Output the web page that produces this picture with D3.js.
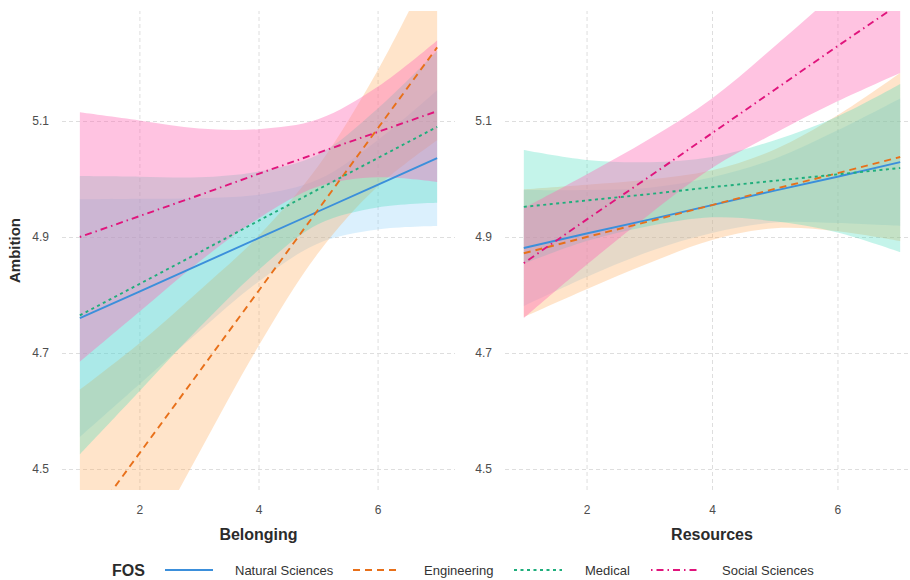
<!DOCTYPE html>
<html>
<head>
<meta charset="utf-8">
<script src="https://cdn.jsdelivr.net/npm/d3@7"></script>
<style>
  body { margin: 0; background: #fff; }
  text { font-family: "Liberation Sans", Arial, sans-serif; }
</style>
</head>
<body>
<div id="chart"></div>
<script>
// values, at x = 1..7
var xs = [1, 2, 3, 4, 5, 6, 7];
var groups = ["Natural Sciences", "Engineering", "Medical", "Social Sciences"];
var yTicks = [4.5, 4.7, 4.9, 5.1];
var xTicks = [2, 4, 6];
var panelTitles = ["Belonging", "Resources"];

// Belonging panel
var belNatFit = [4.760, 4.806, 4.852, 4.898, 4.944, 4.990, 5.036];
var belNatLo  = [4.555, 4.646, 4.737, 4.823, 4.889, 4.913, 4.919];
var belNatHi  = [4.965, 4.966, 4.967, 4.973, 4.999, 5.067, 5.153];
var belEngFit = [4.387, 4.527, 4.667, 4.807, 4.947, 5.087, 5.227];
var belEngLo  = [4.137, 4.337, 4.527, 4.712, 4.872, 4.987, 5.067];
var belEngHi  = [4.637, 4.717, 4.807, 4.902, 5.022, 5.187, 5.387];
var belMedFit = [4.765, 4.819, 4.873, 4.928, 4.982, 5.036, 5.090];
var belMedLo  = [4.525, 4.634, 4.743, 4.843, 4.922, 4.951, 4.959];
var belMedHi  = [5.005, 5.004, 5.003, 5.013, 5.042, 5.121, 5.221];
var belSocFit = [4.900, 4.936, 4.972, 5.009, 5.045, 5.081, 5.117];
var belSocLo  = [4.685, 4.771, 4.857, 4.932, 4.987, 5.003, 4.995];
var belSocHi  = [5.115, 5.101, 5.087, 5.086, 5.103, 5.159, 5.239];

// Resources panel
var resNatFit = [4.881, 4.906, 4.930, 4.955, 4.980, 5.004, 5.029];
var resNatLo  = [4.781, 4.831, 4.875, 4.907, 4.925, 4.924, 4.919];
var resNatHi  = [4.981, 4.981, 4.985, 5.003, 5.035, 5.084, 5.139];
var resEngFit = [4.872, 4.900, 4.927, 4.955, 4.983, 5.010, 5.038];
var resEngLo  = [4.762, 4.810, 4.855, 4.895, 4.915, 4.910, 4.893];
var resEngHi  = [4.982, 4.990, 4.999, 5.015, 5.051, 5.110, 5.183];
var resMedFit = [4.952, 4.963, 4.974, 4.986, 4.997, 5.008, 5.019];
var resMedLo  = [4.854, 4.893, 4.919, 4.934, 4.927, 4.908, 4.874];
var resMedHi  = [5.050, 5.033, 5.029, 5.038, 5.067, 5.108, 5.164];
var resSocFit = [4.855, 4.930, 5.004, 5.079, 5.154, 5.229, 5.303];
var resSocLo  = [4.760, 4.852, 4.939, 5.019, 5.079, 5.134, 5.183];
var resSocHi  = [4.950, 5.008, 5.069, 5.139, 5.229, 5.324, 5.423];

var lineColors = ["#3b8fdb", "#e8701a", "#1fae7c", "#e0147c"];
var fillColors = ["#87cefa", "#ffa54f", "#3ddbb8", "#ff69b4"];
var fillAlpha = [0.3, 0.3, 0.3, 0.4];
var dashes = [null, "7,5", "3,3.5", "1.5,4,7,4"];

var panels = [
  { fit: [belNatFit, belEngFit, belMedFit, belSocFit], lo: [belNatLo, belEngLo, belMedLo, belSocLo], hi: [belNatHi, belEngHi, belMedHi, belSocHi], x0: 62, x1: 455 },
  { fit: [resNatFit, resEngFit, resMedFit, resSocFit], lo: [resNatLo, resEngLo, resMedLo, resSocLo], hi: [resNatHi, resEngHi, resMedHi, resSocHi], x0: 505, x1: 919 }
];

var width = 910, height = 580;
var plotTop = 11, plotBottom = 490;

var svg = d3.select("#chart").append("svg").attr("width", width).attr("height", height);

var y = d3.scaleLinear().domain([4.4638, 5.2897]).range([plotBottom, plotTop]);

function styleGrid(a) {
  a.select(".domain").remove();
  a.selectAll("line").attr("stroke", "#dedede").attr("stroke-dasharray", "4,3");
}
function styleLabels(a) {
  a.select(".domain").remove();
  a.selectAll("text").attr("font-size", 12).attr("fill", "#4d4d4d").attr("font-family", "Liberation Sans, Arial, sans-serif");
}

panels.forEach(function(p, pi) {
  var x = d3.scaleLinear().domain([0.7, 7.3]).range([p.x0, p.x1]);
  var g = svg.append("g");

  // grid
  g.append("g").attr("transform", "translate(0," + plotBottom + ")")
    .call(d3.axisBottom(x).tickValues(xTicks).tickSize(-(plotBottom - plotTop)).tickFormat(""))
    .call(styleGrid);
  g.append("g").attr("transform", "translate(" + p.x0 + ",0)")
    .call(d3.axisLeft(y).tickValues(yTicks).tickSize(-(p.x1 - p.x0)).tickFormat(""))
    .call(styleGrid);

  // tick labels
  g.append("g").attr("transform", "translate(" + (p.x0 - 10) + ",0)")
    .call(d3.axisLeft(y).tickValues(yTicks).tickSize(0).tickFormat(d3.format(".1f")))
    .call(styleLabels);
  g.append("g").attr("transform", "translate(0," + (plotBottom + 12) + ")")
    .call(d3.axisBottom(x).tickValues(xTicks).tickSize(0).tickFormat(d3.format("d")))
    .call(styleLabels);

  g.append("text").attr("x", (p.x0 + p.x1) / 2).attr("y", 540).attr("text-anchor", "middle")
    .attr("font-size", 16).attr("font-weight", "bold").attr("fill", "#2b2b2b").text(panelTitles[pi]);

  var clipId = "clip" + pi;
  svg.append("clipPath").attr("id", clipId).append("rect")
    .attr("x", p.x0).attr("y", plotTop).attr("width", p.x1 - p.x0).attr("height", plotBottom - plotTop);

  var plot = g.append("g").attr("clip-path", "url(#" + clipId + ")");

  groups.forEach(function(name, i) {
    var area = d3.area()
      .x(function(d, j) { return x(xs[j]); })
      .y0(function(d, j) { return y(p.lo[i][j]); })
      .y1(function(d, j) { return y(p.hi[i][j]); })
      .curve(d3.curveCatmullRom);
    plot.append("path").datum(xs).attr("d", area)
      .attr("fill", fillColors[i]).attr("fill-opacity", fillAlpha[i]);
  });

  groups.forEach(function(name, i) {
    var line = d3.line()
      .x(function(d, j) { return x(xs[j]); })
      .y(function(d, j) { return y(p.fit[i][j]); });
    plot.append("path").datum(xs).attr("d", line)
      .attr("fill", "none").attr("stroke", lineColors[i]).attr("stroke-width", 1.9)
      .attr("stroke-dasharray", dashes[i]);
  });
});

// y title
svg.append("text").attr("transform", "translate(20," + ((plotTop + plotBottom) / 2) + ") rotate(-90)")
  .attr("text-anchor", "middle").attr("font-size", 15).attr("font-weight", "bold").attr("fill", "#2b2b2b").text("Ambition");

// legend
var leg = svg.append("g");
leg.append("text").attr("x", 112).attr("y", 576).attr("font-size", 16).attr("font-weight", "bold").attr("fill", "#2b2b2b").text("FOS");
var keyX = [165, 353, 514, 651];
var labX = [235, 424, 585, 722];
groups.forEach(function(name, i) {
  leg.append("line").attr("x1", keyX[i]).attr("x2", keyX[i] + 48).attr("y1", 570).attr("y2", 570)
    .attr("stroke", lineColors[i]).attr("stroke-width", 1.9).attr("stroke-dasharray", dashes[i]);
  leg.append("text").attr("x", labX[i]).attr("y", 575).attr("font-size", 13).attr("fill", "#333").text(name);
});
</script>
</body>
</html>
